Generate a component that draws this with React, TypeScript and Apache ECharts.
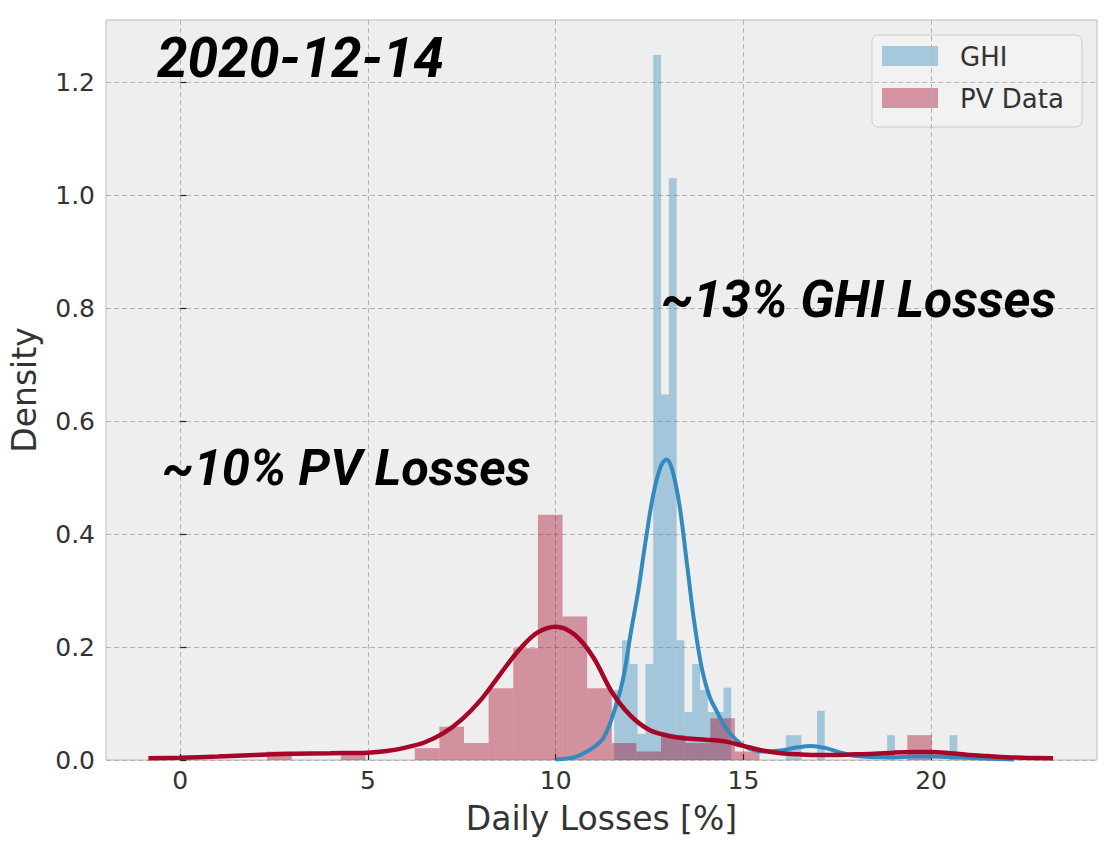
import React, { useEffect, useRef } from "react";
import * as echarts from "echarts";

// Axis ticks
const xTicks = [0, 5, 10, 15, 20];
const yTicks = [0, 0.2, 0.4, 0.6, 0.8, 1.0, 1.2];

// PV Data histogram (density per bin)
const pvBinStart = 2.31;
const pvBinWidth = 0.656;
const pvDensity = [
  0.015, 0, 0, 0.015, 0, 0, 0.021, 0.059, 0.03, 0.127, 0.198, 0.434, 0.254, 0.127,
  0.03, 0.015, 0.044, 0.03, 0.074, 0.015, 0, 0, 0, 0, 0, 0, 0.044,
];

// GHI histogram (density per bin)
const ghiBinStart = 11.56;
const ghiBinWidth = 0.2077;
const ghiDensity = [
  0.124, 0.212, 0.17, 0.046, 0.17, 1.248, 0.647, 1.03, 0.212, 0.085, 0.17, 0.124, 0.085, 0.085,
  0.128, 0, 0, 0, 0, 0, 0, 0, 0.044, 0.044, 0, 0, 0.087, 0, 0, 0, 0, 0, 0, 0, 0, 0.044, 0, 0, 0,
  0, 0, 0, 0, 0.044,
];

// Kernel density estimates [loss %, density]
const pvKde: [number, number][] = [
  [-0.85, 0.003], [0, 0.004], [1, 0.006], [2, 0.009], [3, 0.011], [4, 0.012], [5, 0.013],
  [5.5, 0.016], [6, 0.022], [6.5, 0.031], [7, 0.047], [7.5, 0.072], [8, 0.106], [8.5, 0.15],
  [9, 0.193], [9.5, 0.225], [10, 0.236], [10.5, 0.222], [11, 0.182], [11.5, 0.12], [12, 0.078],
  [12.5, 0.053], [13, 0.043], [13.5, 0.038], [14, 0.036], [14.5, 0.033], [15, 0.025],
  [15.5, 0.017], [16, 0.012], [16.5, 0.01], [17, 0.009], [17.5, 0.009], [18, 0.01],
  [18.5, 0.011], [19, 0.013], [19.5, 0.014], [20, 0.014], [20.5, 0.012], [21, 0.009],
  [21.5, 0.007], [22, 0.005], [22.5, 0.004], [23.25, 0.003],
];

const ghiKde: [number, number][] = [
  [10.0, 0.001], [10.5, 0.005], [11.0, 0.022], [11.3, 0.042], [11.6, 0.095], [11.8, 0.145],
  [12.0, 0.225], [12.2, 0.3], [12.4, 0.39], [12.6, 0.47], [12.8, 0.52], [12.95, 0.532],
  [13.1, 0.515], [13.3, 0.45], [13.5, 0.345], [13.7, 0.24], [13.9, 0.16], [14.1, 0.112],
  [14.3, 0.085], [14.5, 0.06], [14.8, 0.036], [15.1, 0.022], [15.5, 0.015], [16.0, 0.017],
  [16.4, 0.022], [16.8, 0.025], [17.2, 0.021], [17.6, 0.013], [18.0, 0.007], [18.5, 0.005],
  [19.0, 0.005], [19.5, 0.006], [20.0, 0.006], [20.6, 0.005], [21.2, 0.003], [22.2, 0.001],
];

const GHI_COLOR = "#348ABD";
const PV_COLOR = "#A60628";
const GHI_FILL = "rgba(52,138,189,0.4)";
const PV_FILL = "rgba(166,6,40,0.4)";

function binRows(start: number, width: number, density: number[]) {
  return density
    .map((d, i) => [start + i * width, start + (i + 1) * width, d])
    .filter((r) => r[2] > 0);
}

const renderBin = (_params: any, api: any) => {
  const top = api.coord([api.value(0), api.value(2)]);
  const bottom = api.coord([api.value(1), 0]);
  return {
    type: "rect",
    shape: { x: top[0], y: top[1], width: bottom[0] - top[0], height: bottom[1] - top[1] },
    style: { fill: api.visual("color") },
  };
};

const tickFont = { fontFamily: "DejaVu Sans", fontSize: 25, color: "#333333" };
const nameFont = { fontFamily: "DejaVu Sans", fontSize: 33, color: "#333333" };
const noteFont = { fontFamily: "Roboto", fontWeight: "bold", fontStyle: "italic", fill: "#000000" };

export default function App() {
  const ref = useRef<HTMLDivElement>(null);

  useEffect(() => {
    if (!ref.current) return;
    const chart = echarts.init(ref.current, undefined, { renderer: "svg" });
    chart.setOption({
      animation: false,
      backgroundColor: "#ffffff",
      grid: {
        left: 104,
        top: 20,
        width: 993,
        height: 740,
        show: true,
        backgroundColor: "#eeeeee",
        borderColor: "#bcbcbc",
        borderWidth: 1,
      },
      xAxis: {
        type: "value",
        min: -1.98,
        max: 24.42,
        name: "Daily Losses [%]",
        nameLocation: "middle",
        nameGap: 42,
        nameTextStyle: nameFont,
        axisLine: { show: false },
        axisTick: {
          show: true,
          inside: true,
          length: 6,
          customValues: xTicks,
          lineStyle: { color: "#222222", width: 1.2 },
        },
        axisLabel: { ...tickFont, customValues: xTicks, margin: 8 },
        splitLine: { show: true, lineStyle: { color: "#b2b2b2", width: 1, type: [5, 3] } },
      },
      yAxis: {
        type: "value",
        min: 0,
        max: 1.31,
        name: "Density",
        nameLocation: "middle",
        nameGap: 65,
        nameTextStyle: nameFont,
        axisLine: { show: false },
        axisTick: {
          show: true,
          inside: true,
          length: 6,
          customValues: yTicks,
          lineStyle: { color: "#222222", width: 1.2 },
        },
        axisLabel: {
          ...tickFont,
          customValues: yTicks,
          margin: 11,
          formatter: (v: number) => v.toFixed(1),
        },
        splitLine: { show: true, lineStyle: { color: "#b2b2b2", width: 1, type: [5, 3] } },
      },
      series: [
        {
          name: "GHI",
          type: "custom",
          renderItem: renderBin,
          color: GHI_FILL,
          encode: { x: [0, 1], y: 2 },
          data: binRows(ghiBinStart, ghiBinWidth, ghiDensity),
          clip: true,
        },
        {
          name: "GHI KDE",
          type: "line",
          data: ghiKde,
          smooth: 0.35,
          symbol: "none",
          lineStyle: { color: GHI_COLOR, width: 4 },
          clip: true,
        },
        {
          name: "PV Data",
          type: "custom",
          renderItem: renderBin,
          color: PV_FILL,
          encode: { x: [0, 1], y: 2 },
          data: binRows(pvBinStart, pvBinWidth, pvDensity),
          clip: true,
        },
        {
          name: "PV KDE",
          type: "line",
          data: pvKde,
          smooth: 0.35,
          symbol: "none",
          lineStyle: { color: PV_COLOR, width: 4.5 },
          clip: true,
        },
      ],
      graphic: [
        {
          type: "text",
          z: 50,
          x: 157,
          y: 57.5,
          style: { ...noteFont, text: "2020-12-14", fontSize: 55, align: "left", verticalAlign: "middle" },
        },
        {
          type: "text",
          z: 50,
          x: 661,
          y: 299,
          style: { ...noteFont, text: "~13% GHI Losses", fontSize: 51.5, align: "left", verticalAlign: "middle" },
        },
        {
          type: "text",
          z: 50,
          x: 162,
          y: 467,
          style: { ...noteFont, text: "~10% PV Losses", fontSize: 50.5, align: "left", verticalAlign: "middle" },
        },
        {
          type: "group",
          z: 50,
          children: [
            {
              type: "rect",
              shape: { x: 872, y: 35, width: 210, height: 92, r: 6 },
              style: { fill: "rgba(242,242,242,0.8)", stroke: "#cccccc", lineWidth: 1 },
            },
            {
              type: "rect",
              shape: { x: 882, y: 46, width: 56, height: 20 },
              style: { fill: GHI_FILL },
            },
            {
              type: "rect",
              shape: { x: 882, y: 88, width: 56, height: 20 },
              style: { fill: PV_FILL },
            },
            {
              type: "text",
              x: 960,
              y: 57,
              style: { text: "GHI", fontFamily: "DejaVu Sans", fontSize: 26, fill: "#333333", align: "left", verticalAlign: "middle" },
            },
            {
              type: "text",
              x: 960,
              y: 99,
              style: { text: "PV Data", fontFamily: "DejaVu Sans", fontSize: 26, fill: "#333333", align: "left", verticalAlign: "middle" },
            },
          ],
        },
      ],
    });
    return () => chart.dispose();
  }, []);

  return (
    <div
      ref={ref}
      style={{ position: "absolute", left: 0, top: 0, width: 1117, height: 842, background: "#ffffff" }}
    />
  );
}
